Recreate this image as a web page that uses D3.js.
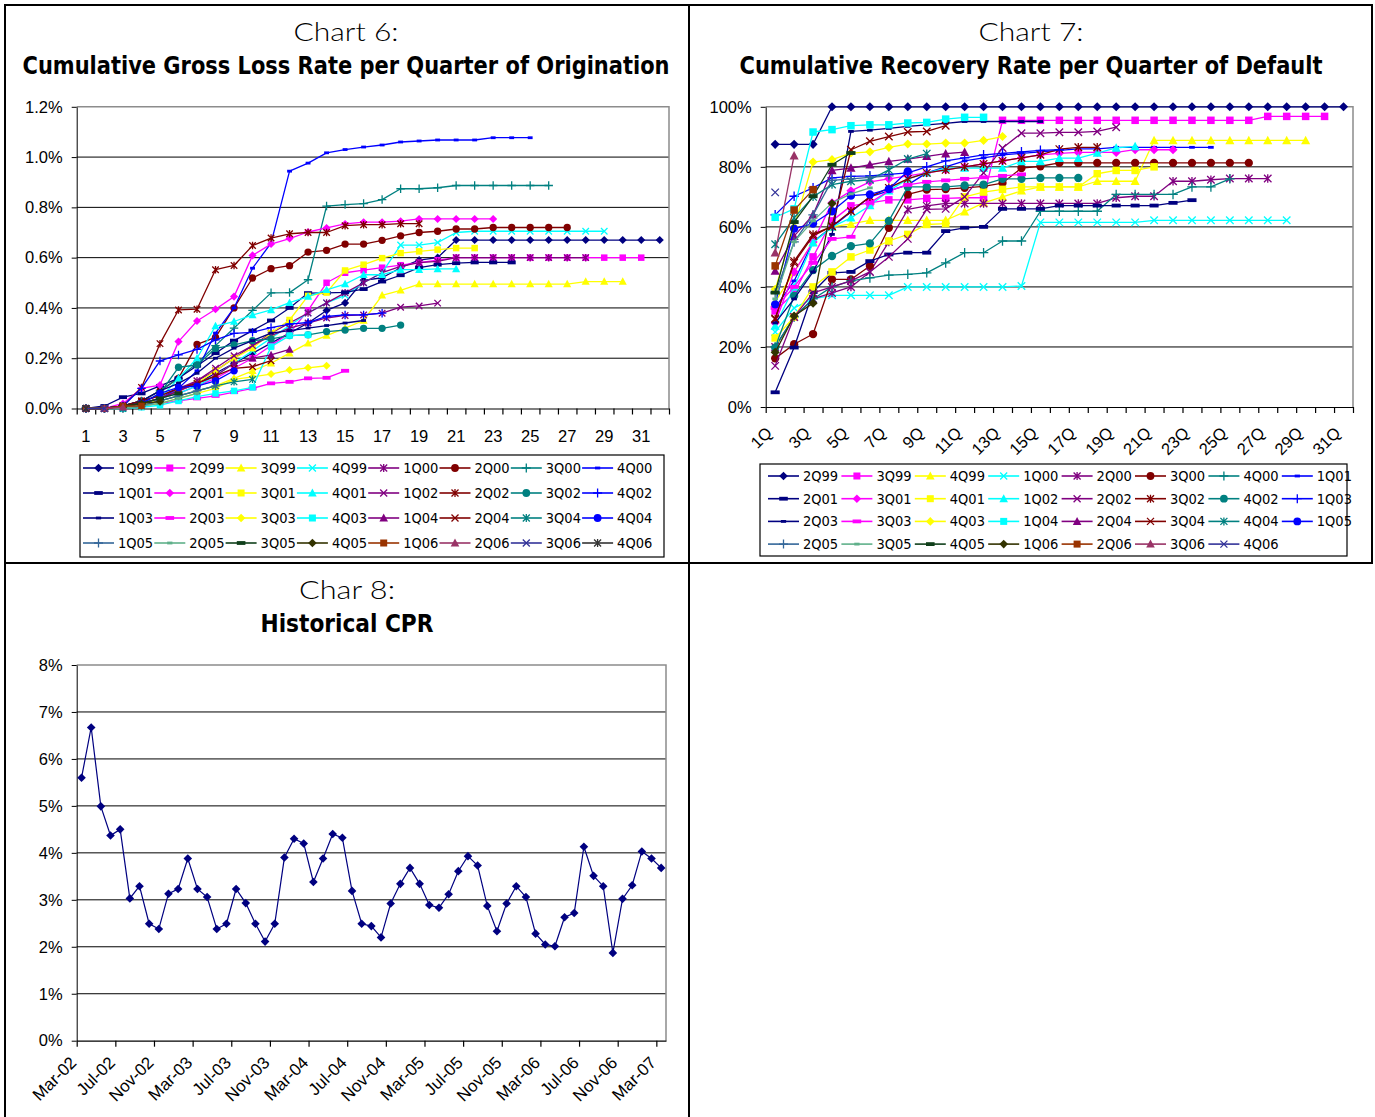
<!DOCTYPE html>
<html>
<head>
<meta charset="utf-8">
<script src="https://cdn.jsdelivr.net/npm/d3@7"></script>
<style>
  html, body { margin: 0; padding: 0; background: #fff; }
  svg { display: block; }
</style>
</head>
<body>
<svg id="fig" width="1375" height="1117"></svg>
<script>
// ---------- Chart 6: cumulative gross loss rate (%), by quarter since origination ----------
const lossQuarters = d3.range(1, 33);
const lossTickLabels = [1, 3, 5, 7, 9, 11, 13, 15, 17, 19, 21, 23, 25, 27, 29, 31];
const lossYTicks = [0, 0.2, 0.4, 0.6, 0.8, 1.0, 1.2];
const lossVintages = ["1Q99","2Q99","3Q99","4Q99","1Q00","2Q00","3Q00","4Q00",
  "1Q01","2Q01","3Q01","4Q01","1Q02","2Q02","3Q02","4Q02",
  "1Q03","2Q03","3Q03","4Q03","1Q04","2Q04","3Q04","4Q04",
  "1Q05","2Q05","3Q05","4Q05","1Q06","2Q06","3Q06","4Q06"];

const loss1Q99 = [0,0,0.01,0.02,0.04,0.07,0.1,0.14,0.18,0.22,0.26,0.3,0.34,0.39,0.42,0.51,0.52,0.56,0.59,0.6,0.67,0.67,0.67,0.67,0.67,0.67,0.67,0.67,0.67,0.67,0.67,0.67];
const loss2Q99 = [0,0,0.01,0.02,0.04,0.06,0.09,0.12,0.16,0.2,0.25,0.3,0.39,0.5,0.54,0.55,0.56,0.57,0.58,0.59,0.6,0.6,0.6,0.6,0.6,0.6,0.6,0.6,0.6,0.6,0.6];
const loss3Q99 = [0,0,0.01,0.02,0.03,0.05,0.07,0.09,0.12,0.15,0.18,0.22,0.26,0.29,0.32,0.35,0.45,0.47,0.495,0.495,0.495,0.495,0.495,0.495,0.495,0.495,0.495,0.505,0.505,0.505];
const loss4Q99 = [0,0,0.01,0.02,0.04,0.06,0.09,0.13,0.18,0.23,0.28,0.33,0.38,0.42,0.45,0.5,0.54,0.65,0.65,0.66,0.7,0.705,0.705,0.705,0.705,0.705,0.705,0.705,0.705];
const loss1Q00 = [0,0,0.01,0.03,0.05,0.08,0.11,0.15,0.2,0.25,0.3,0.34,0.38,0.42,0.46,0.5,0.54,0.565,0.58,0.585,0.6,0.6,0.6,0.6,0.6,0.6,0.6,0.6];
const loss2Q00 = [0,0,0.01,0.03,0.07,0.12,0.255,0.283,0.4,0.519,0.556,0.568,0.622,0.629,0.654,0.654,0.669,0.687,0.7,0.705,0.714,0.714,0.72,0.72,0.72,0.72,0.72];
const loss3Q00 = [0,0,0.01,0.03,0.07,0.12,0.18,0.25,0.32,0.39,0.46,0.461,0.512,0.805,0.811,0.815,0.831,0.874,0.874,0.878,0.887,0.887,0.887,0.887,0.887,0.887];
const loss4Q00 = [0,0,0.01,0.02,0.04,0.08,0.15,0.3,0.4,0.558,0.658,0.944,0.976,1.017,1.03,1.04,1.048,1.06,1.064,1.068,1.068,1.068,1.077,1.077,1.077];
const loss1Q01 = [0,0.01,0.045,0.06,0.09,0.12,0.17,0.22,0.27,0.31,0.35,0.4,0.459,0.46,0.462,0.475,0.505,0.53,0.56,0.572,0.578,0.581,0.581,0.581];
const loss2Q01 = [0,0,0.02,0.08,0.093,0.266,0.348,0.395,0.445,0.609,0.654,0.676,0.702,0.718,0.734,0.741,0.741,0.745,0.754,0.754,0.754,0.754,0.754];
const loss3Q01 = [0,0,0.01,0.02,0.04,0.07,0.1,0.15,0.2,0.24,0.3,0.352,0.448,0.461,0.549,0.572,0.598,0.618,0.625,0.632,0.638,0.638];
const loss4Q01 = [0,0,0.01,0.02,0.04,0.12,0.2,0.328,0.346,0.372,0.392,0.421,0.445,0.472,0.495,0.532,0.532,0.552,0.552,0.555,0.555];
const loss1Q02 = [0,0,0.01,0.02,0.04,0.07,0.11,0.16,0.21,0.25,0.29,0.32,0.34,0.36,0.37,0.372,0.379,0.403,0.408,0.419];
const loss2Q02 = [0,0,0.01,0.084,0.258,0.392,0.395,0.552,0.569,0.648,0.678,0.695,0.7,0.7,0.727,0.731,0.731,0.735,0.735];
const loss3Q02 = [0,0,0,0.02,0.06,0.164,0.173,0.239,0.253,0.27,0.277,0.29,0.293,0.306,0.312,0.319,0.319,0.332];
const loss4Q02 = [0,0,0.01,0.08,0.189,0.213,0.235,0.273,0.299,0.303,0.322,0.336,0.342,0.366,0.372,0.372,0.379];
const loss1Q03 = [0,0,0.01,0.03,0.07,0.1,0.14,0.2,0.24,0.27,0.3,0.31,0.32,0.33,0.34,0.35];
const loss2Q03 = [0,0,0,0.01,0.02,0.03,0.04,0.05,0.065,0.08,0.1,0.106,0.12,0.122,0.15];
const loss3Q03 = [0,0,0,0.01,0.02,0.04,0.06,0.08,0.116,0.126,0.137,0.153,0.162,0.17];
const loss4Q03 = [0,0,0,0.005,0.013,0.03,0.047,0.06,0.07,0.084,0.246,0.29,0.293];
const loss1Q04 = [0,0,0.01,0.02,0.04,0.07,0.1,0.13,0.18,0.2,0.213,0.235];
const loss2Q04 = [0,0,0.01,0.03,0.05,0.08,0.1,0.13,0.16,0.166,0.19];
const loss3Q04 = [0,0,0,0.01,0.03,0.05,0.07,0.09,0.106,0.116];
const loss4Q04 = [0,0,0.01,0.02,0.06,0.084,0.089,0.11,0.15];
const loss1Q05 = [0,0,0,0.01,0.03,0.05,0.07,0.09];
const loss2Q05 = [0,0,0,0.01,0.02,0.04,0.06];
const loss3Q05 = [0,0,0.01,0.02,0.04,0.06];
const loss4Q05 = [0,0,0.01,0.02,0.027];
const loss1Q06 = [0,0,0.01,0.01];
const loss2Q06 = [0,0,0.005];
const loss3Q06 = [0,0];
const loss4Q06 = [0];

// ---------- Chart 7: cumulative recovery rate (%), by quarter since default ----------
const recQuarters = d3.range(1, 32);
const recTickLabels = ["1Q","3Q","5Q","7Q","9Q","11Q","13Q","15Q","17Q","19Q","21Q","23Q","25Q","27Q","29Q","31Q"];
const recYTicks = [0, 20, 40, 60, 80, 100];
const recVintages = ["2Q99","3Q99","4Q99","1Q00","2Q00","3Q00","4Q00","1Q01",
  "2Q01","3Q01","4Q01","1Q02","2Q02","3Q02","4Q02","1Q03",
  "2Q03","3Q03","4Q03","1Q04","2Q04","3Q04","4Q04","1Q05",
  "2Q05","3Q05","4Q05","1Q06","2Q06","3Q06","4Q06"];

const rec2Q99 = [87.5,87.5,87.5,100,100,100,100,100,100,100,100,100,100,100,100,100,100,100,100,100,100,100,100,100,100,100,100,100,100,100,100];
const rec3Q99 = [32,38,50,62,67,68,69,69,69.5,69.5,69.7,69.7,95.5,95.5,95.5,95.5,95.5,95.5,95.5,95.5,95.5,95.5,95.5,95.5,95.5,95.5,96.8,96.8,96.8,96.8];
const rec4Q99 = [35,45,55,60,61,62.2,62.2,62.2,62.2,62.2,65,68,70,72,73.3,73.3,73.3,75.2,75.2,75.2,88.8,88.8,88.8,88.8,88.8,88.8,88.8,88.8,88.8];
const rec1Q00 = [25,33,36,37.2,37.2,37.2,37.2,40,40,40,40,40,40,40.3,61.5,61.5,61.5,61.5,61.5,61.5,62.2,62.2,62.2,62.2,62.2,62.2,62.2,62.2];
const rec2Q00 = [20,30,36,38,40,45,55,65.8,67,67.8,67.8,67.8,67.8,67.8,67.8,67.8,67.8,67.8,69.7,70.2,70.2,75.2,75.2,75.7,76.1,76.1,76.1];
const rec3Q00 = [16.2,20.9,24.3,42.5,42.5,47,59.7,70.8,72.4,72.6,73,73.5,74.6,79.6,80.2,81.3,81.3,81.3,81.3,81.3,81.3,81.3,81.3,81.3,81.3,81.3];
const rec4Q00 = [20,30,36,40,42,43,43.9,44.2,44.7,48,51.4,51.4,55.3,55.3,65.2,65.2,65.2,65.2,70.8,70.8,70.8,70.8,73.3,73.3,76];
const rec1Q01 = [33,42,55,60,65,70,72,74,78,80,82,83,84,84.5,85,85.5,86,86,86.5,86.5,86.5,86.5,86.5,86.5];
const rec2Q01 = [4.9,19.8,38.3,44.7,45,48.6,50.8,51.4,51.4,58.6,59.7,60,66,66,66,67.1,67.1,67.1,67.1,67.1,67.1,68,68.9];
const rec3Q01 = [28,45,55,68,72,75,76,77,78,79,80,81,82,83,84,84.5,84.8,84.8,84.8,85.7,85.7,85.7];
const rec4Q01 = [23,30,40,45,50,52.3,55.3,57.5,60.8,61.1,70,71.6,72.5,73.3,73.3,73.3,73.3,77.7,78.8,78.8,80];
const rec1Q02 = [27,40,54.7,60,63,67.1,72,76,78,79.6,79.6,79.6,79.6,81.8,81.8,82.9,82.9,84.6,86.3,86.8];
const rec2Q02 = [13.7,30,38,40,42,45,50,56,65.8,66,70,78,86.3,91.2,91.2,91.5,91.5,91.8,93.2];
const rec3Q02 = [29.2,48.6,57.5,60.2,65.2,70,73,76,78,79,80,81,82,83,84,85.9,86.5,86.5];
const rec4Q02 = [19.8,37,45.6,50.3,53.6,54.5,62,73.3,73.3,73.3,73.8,74.1,76,76,76.3,76.3,76.3];
const rec1Q03 = [64,70.2,73,76.3,76.8,77,77.5,78,80,82,83,84,84.5,85,85.5,85.7];
const rec2Q03 = [28,36,45,57.5,91.8,92.2,92.8,93.5,94,94.5,95.1,95.1,95.1,95.1,95.1];
const rec3Q03 = [33,40,48,56,56.7,68,72,74,75,75.5,76,76.5,77,77.5];
const rec4Q03 = [39.2,60,81.6,82.4,84.6,85,86.5,87.6,87.6,87.9,87.9,88.8,90.1];
const rec1Q04 = [63.2,66,91.6,92.4,93.7,94,94,94.6,94.8,95.9,96.5,96.5];
const rec2Q04 = [45.3,56.9,64,78.8,79.6,80.7,81.8,82.6,83.5,84.4,84.9];
const rec3Q04 = [29.5,48,57,60.2,85.7,88.5,90.1,91.6,91.8,93.7];
const rec4Q04 = [54.2,63,70,74.1,75.2,75.7,79,82.6,84.4];
const rec1Q05 = [34.2,59.4,61.1,65.2,70.4,70.8,72.6,78.5];
const rec2Q05 = [38,55,64,75.5,76,76.5,77];
const rec3Q05 = [36,55,62,68,71,73];
const rec4Q05 = [38.1,61.6,70.2,80.7,84.6];
const rec1Q06 = [18.2,30.3,34.6,67.8];
const rec2Q06 = [47,65.6,72.4];
const rec3Q06 = [51.4,83.7];
const rec4Q06 = [71.5];

// ---------- Chart 8: monthly CPR (%) ----------
const cprMonths = ["Mar-02","Apr-02","May-02","Jun-02","Jul-02","Aug-02","Sep-02","Oct-02","Nov-02","Dec-02",
  "Jan-03","Feb-03","Mar-03","Apr-03","May-03","Jun-03","Jul-03","Aug-03","Sep-03","Oct-03","Nov-03","Dec-03",
  "Jan-04","Feb-04","Mar-04","Apr-04","May-04","Jun-04","Jul-04","Aug-04","Sep-04","Oct-04","Nov-04","Dec-04",
  "Jan-05","Feb-05","Mar-05","Apr-05","May-05","Jun-05","Jul-05","Aug-05","Sep-05","Oct-05","Nov-05","Dec-05",
  "Jan-06","Feb-06","Mar-06","Apr-06","May-06","Jun-06","Jul-06","Aug-06","Sep-06","Oct-06","Nov-06","Dec-06",
  "Jan-07","Feb-07","Mar-07"];
const cprValues = [5.6,6.67,4.99,4.37,4.5,3.03,3.29,2.49,2.38,3.13,3.23,3.88,3.23,3.06,2.38,2.49,3.23,2.93,2.49,2.11,2.49,
  3.9,4.3,4.2,3.38,3.88,4.4,4.32,3.19,2.49,2.44,2.2,2.92,3.34,3.68,3.34,2.89,2.83,3.12,3.61,3.93,3.73,2.87,2.33,
  2.92,3.29,3.06,2.28,2.05,2.01,2.63,2.72,4.13,3.51,3.29,1.87,3.02,3.31,4.03,3.88,3.68];
const cprTickLabels = ["Mar-02","Jul-02","Nov-02","Mar-03","Jul-03","Nov-03","Mar-04","Jul-04","Nov-04",
  "Mar-05","Jul-05","Nov-05","Mar-06","Jul-06","Nov-06","Mar-07"];
const cprYTicks = [0,1,2,3,4,5,6,7,8];

// ---------- shared series styling ----------
const seriesColors = ["#000080","#FF00FF","#FFFF00","#00FFFF","#800080","#800000","#008080","#0000FF",
  "#000080","#FF00FF","#FFFF00","#00FFFF","#800080","#800000","#008080","#0000FF",
  "#000080","#FF00FF","#FFFF00","#00FFFF","#800080","#800000","#008080","#0000FF",
  "#336699","#5FB08A","#0F3F1A","#333300","#993300","#993366","#333399","#333333"];
const markerCycle = ["diamond","square","triangle","x","star","circle","plus","dot","dash"];

const lossValues = [loss1Q99,loss2Q99,loss3Q99,loss4Q99,loss1Q00,loss2Q00,loss3Q00,loss4Q00,
  loss1Q01,loss2Q01,loss3Q01,loss4Q01,loss1Q02,loss2Q02,loss3Q02,loss4Q02,
  loss1Q03,loss2Q03,loss3Q03,loss4Q03,loss1Q04,loss2Q04,loss3Q04,loss4Q04,
  loss1Q05,loss2Q05,loss3Q05,loss4Q05,loss1Q06,loss2Q06,loss3Q06,loss4Q06];
const recValues = [rec2Q99,rec3Q99,rec4Q99,rec1Q00,rec2Q00,rec3Q00,rec4Q00,rec1Q01,
  rec2Q01,rec3Q01,rec4Q01,rec1Q02,rec2Q02,rec3Q02,rec4Q02,rec1Q03,
  rec2Q03,rec3Q03,rec4Q03,rec1Q04,rec2Q04,rec3Q04,rec4Q04,rec1Q05,
  rec2Q05,rec3Q05,rec4Q05,rec1Q06,rec2Q06,rec3Q06,rec4Q06];

const svg = d3.select("#fig");
const AXIS_FONT = "'Liberation Sans', Arial, sans-serif";
const NARROW_FONT = "'Liberation Sans Narrow', 'DejaVu Sans Condensed', 'Arial Narrow', sans-serif";

// draws one marker centred at the origin of g
function drawMarker(g, type, color, size) {
  const h = size / 2;
  switch (type) {
    case "diamond":
      g.append("path").attr("d", `M0,${-h-0.8}L${h+0.8},0L0,${h+0.8}L${-h-0.8},0Z`).attr("fill", color);
      break;
    case "square":
      g.append("rect").attr("x", -h).attr("y", -h).attr("width", size).attr("height", size).attr("fill", color);
      break;
    case "triangle":
      g.append("path").attr("d", `M0,${-h-1}L${h+0.8},${h}L${-h-0.8},${h}Z`).attr("fill", color);
      break;
    case "x":
      g.append("path").attr("d", `M${-h},${-h}L${h},${h}M${-h},${h}L${h},${-h}`)
        .attr("stroke", color).attr("stroke-width", 1.3).attr("fill", "none");
      break;
    case "star":
      g.append("path").attr("d", `M${-h},${-h}L${h},${h}M${-h},${h}L${h},${-h}M0,${-h-0.5}L0,${h+0.5}`)
        .attr("stroke", color).attr("stroke-width", 1.3).attr("fill", "none");
      break;
    case "circle":
      g.append("circle").attr("r", h + 0.4).attr("fill", color);
      break;
    case "plus":
      g.append("path").attr("d", `M${-h-1},0L${h+1},0M0,${-h-1}L0,${h+1}`)
        .attr("stroke", color).attr("stroke-width", 1.3).attr("fill", "none");
      break;
    case "dot":
      g.append("rect").attr("x", -h * 0.75).attr("y", -1.4).attr("width", h * 1.5).attr("height", 2.8).attr("fill", color);
      break;
    case "dash":
      g.append("rect").attr("x", -h - 0.8).attr("y", -1.9).attr("width", size + 1.6).attr("height", 3.8).attr("fill", color);
      break;
  }
}

function text(parent, x, y, str, opts) {
  const t = parent.append("text").attr("x", x).attr("y", y).text(str)
    .attr("font-family", opts.family || AXIS_FONT)
    .attr("font-size", opts.size || 16)
    .attr("font-weight", opts.weight || "normal")
    .attr("text-anchor", opts.anchor || "middle")
    .attr("fill", "#000");
  if (opts.length) t.attr("textLength", opts.length).attr("lengthAdjust", "spacingAndGlyphs");
  return t;
}

// plot frame: value axis, gridlines, category axis with boundary ticks
function drawFrame(g, x0, x1, y, yTicks, yFormat, nCats, tickEvery) {
  const [yBottom, yTop] = y.range();
  // gridlines (skip the baseline and the top border)
  g.append("g").selectAll("line").data(yTicks.slice(1, -1)).join("line")
    .attr("x1", x0).attr("x2", x1).attr("y1", d => y(d)).attr("y2", d => y(d))
    .attr("stroke", "#000").attr("stroke-width", 1);
  // grey top and right border
  g.append("path").attr("d", `M${x0},${yTop}L${x1},${yTop}L${x1},${yBottom}`)
    .attr("fill", "none").attr("stroke", "#8c8c8c").attr("stroke-width", 1.5);
  // value axis
  const ya = g.append("g").attr("transform", `translate(${x0},0)`)
    .call(d3.axisLeft(y).tickValues(yTicks).tickSize(5).tickSizeOuter(0).tickPadding(9).tickFormat(yFormat));
  ya.selectAll("text").attr("font-family", AXIS_FONT).attr("font-size", 16.5).attr("fill", "#000");
  ya.selectAll("line,path").attr("stroke", "#000");
  // category axis with ticks at category boundaries
  const xb = d3.scaleLinear().domain([0, nCats]).range([x0, x1]);
  const xa = g.append("g").attr("transform", `translate(0,${yBottom})`)
    .call(d3.axisBottom(xb).tickValues(d3.range(0, nCats + 1, tickEvery)).tickSize(6).tickSizeOuter(0).tickFormat(""));
  xa.selectAll("line,path").attr("stroke", "#000").attr("stroke-width", 1.2);
}

function drawSeries(g, x, y, cats, values, idx, size, width) {
  const color = seriesColors[idx];
  const type = markerCycle[idx % 9];
  const pts = values.map((v, i) => [x(cats[i]), y(v)]);
  const sg = g.append("g");
  sg.append("path").attr("d", d3.line()(pts)).attr("fill", "none")
    .attr("stroke", color).attr("stroke-width", width).attr("stroke-linejoin", "round");
  pts.forEach(p => drawMarker(sg.append("g").attr("transform", `translate(${p[0]},${p[1]})`), type, color, size));
}

function drawLegend(g, names, box, colX0, colStep, rowY0, rowStep) {
  g.append("rect").attr("x", box[0]).attr("y", box[1]).attr("width", box[2]).attr("height", box[3])
    .attr("fill", "#fff").attr("stroke", "#000").attr("stroke-width", 1.2);
  names.forEach((name, i) => {
    const col = i % 8, row = Math.floor(i / 8);
    const lx = colX0 + col * colStep, ly = rowY0 + row * rowStep;
    const color = seriesColors[i];
    g.append("line").attr("x1", lx - 35).attr("x2", lx - 4).attr("y1", ly).attr("y2", ly)
      .attr("stroke", color).attr("stroke-width", 1.6);
    drawMarker(g.append("g").attr("transform", `translate(${lx - 19.5},${ly})`), markerCycle[i % 9], color, 7);
    text(g, lx, ly + 5, name, { family: NARROW_FONT, size: 14.5, anchor: "start" });
  });
}

// ---------- panel borders ----------
const borders = svg.append("g").attr("stroke", "#000").attr("stroke-width", 2);
borders.append("line").attr("x1", 4).attr("x2", 1373).attr("y1", 5).attr("y2", 5);
borders.append("line").attr("x1", 4).attr("x2", 1373).attr("y1", 563).attr("y2", 563);
borders.append("line").attr("x1", 5).attr("x2", 5).attr("y1", 4).attr("y2", 1117);
borders.append("line").attr("x1", 689).attr("x2", 689).attr("y1", 4).attr("y2", 1117);
borders.append("line").attr("x1", 1372).attr("x2", 1372).attr("y1", 4).attr("y2", 564);

// ---------- Chart 6 ----------
{
  const g = svg.append("g");
  text(g, 346, 41, "Chart 6:", { family: "Lato, 'Open Sans', sans-serif", size: 26, weight: 300, length: 105 });
  text(g, 346, 74, "Cumulative Gross Loss Rate per Quarter of Origination",
    { family: NARROW_FONT, size: 25, weight: "bold", length: 647 });
  const x0 = 76.7, x1 = 669;
  const y = d3.scaleLinear().domain([0, 1.2]).range([408.5, 106.8]);
  const x = d3.scalePoint().domain(lossQuarters).range([x0, x1]).padding(0.5);
  drawFrame(g, x0, x1, y, lossYTicks, d => d3.format(".1f")(d) + "%", lossQuarters.length, 1);
  lossTickLabels.forEach(q => text(g, x(q), 442, String(q), { size: 16.5 }));
  lossVintages.forEach((v, i) => drawSeries(g, x, y, lossQuarters, lossValues[i], i, 6.5, 1.3));
  drawLegend(g, lossVintages, [80, 455, 584, 102], 118, 71.3, 468, 25);
}

// ---------- Chart 7 ----------
{
  const g = svg.append("g");
  text(g, 1031, 41, "Chart 7:", { family: "Lato, 'Open Sans', sans-serif", size: 26, weight: 300, length: 105 });
  text(g, 1031, 74, "Cumulative Recovery Rate per Quarter of Default",
    { family: NARROW_FONT, size: 25, weight: "bold", length: 583 });
  const x0 = 765.7, x1 = 1353;
  const y = d3.scaleLinear().domain([0, 100]).range([407, 106.8]);
  const x = d3.scalePoint().domain(recQuarters).range([x0, x1]).padding(0.5);
  drawFrame(g, x0, x1, y, recYTicks, d => d + "%", recQuarters.length, 1);
  recTickLabels.forEach((lab, i) => {
    const cx = x(recQuarters[i * 2]);
    text(g, 0, 0, lab, { size: 16.5, anchor: "end" }).attr("transform", `translate(${cx - 2},${407 + 27}) rotate(-45)`);
  });
  recVintages.forEach((v, i) => drawSeries(g, x, y, recQuarters, recValues[i], i, 7.5, 1.3));
  drawLegend(g, recVintages, [760, 464, 587, 92], 803, 73.4, 476, 22.7);
}

// ---------- Chart 8 ----------
{
  const g = svg.append("g");
  text(g, 347, 599, "Char 8:", { family: "Lato, 'Open Sans', sans-serif", size: 26, weight: 300, length: 96 });
  text(g, 347, 632, "Historical CPR", { family: NARROW_FONT, size: 25, weight: "bold", length: 173 });
  const x0 = 76.7, x1 = 666;
  const y = d3.scaleLinear().domain([0, 8]).range([1040.7, 665]);
  const x = d3.scalePoint().domain(cprMonths).range([x0, x1]).padding(0.5);
  drawFrame(g, x0, x1, y, cprYTicks, d => d + "%", cprMonths.length, 4);
  cprTickLabels.forEach(lab => {
    text(g, 0, 0, lab, { size: 17, anchor: "end" }).attr("transform", `translate(${x(lab) - 4},${1040.7 + 23}) rotate(-45)`);
  });
  const pts = cprValues.map((v, i) => [x(cprMonths[i]), y(v)]);
  g.append("path").attr("d", d3.line()(pts)).attr("fill", "none").attr("stroke", "#000080").attr("stroke-width", 1.2);
  pts.forEach(p => drawMarker(g.append("g").attr("transform", `translate(${p[0]},${p[1]})`), "diamond", "#000080", 7));
}
</script>
</body>
</html>
